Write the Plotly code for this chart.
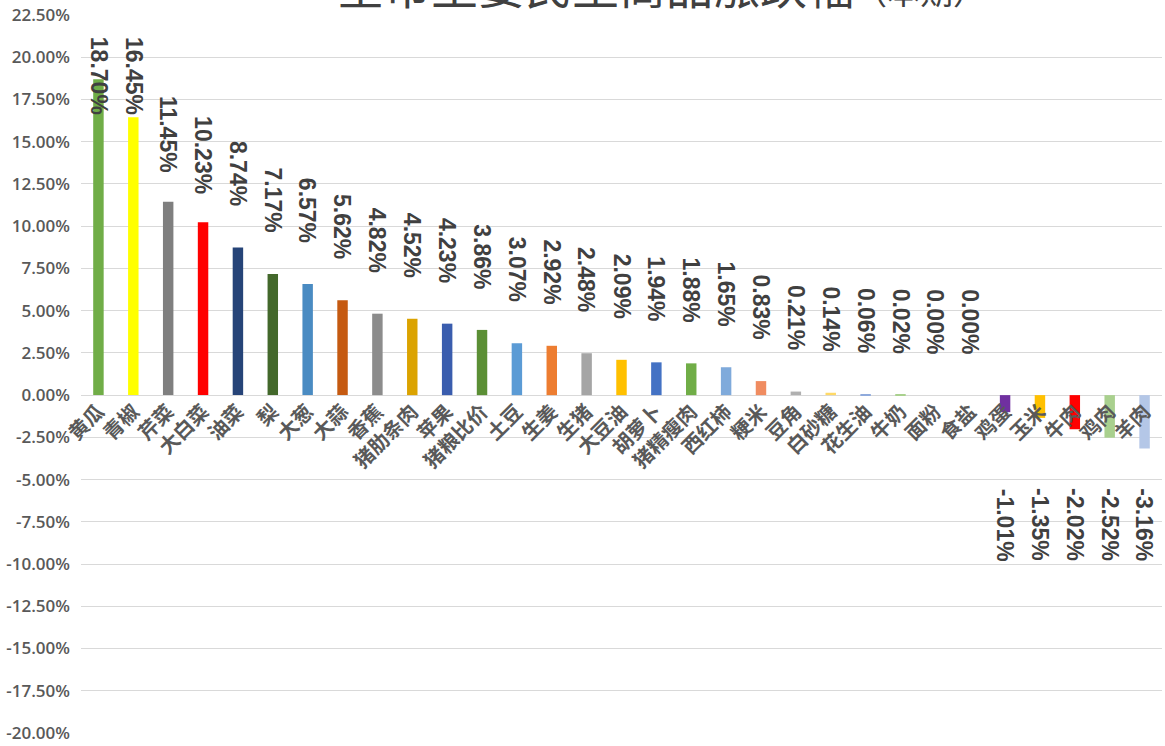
import plotly.graph_objects as go

categories = ["黄瓜", "青椒", "芹菜", "大白菜", "油菜", "梨", "大葱", "大蒜", "香蕉", "猪肋条肉",
              "苹果", "猪粮比价", "土豆", "生姜", "生猪", "大豆油", "胡萝卜", "猪精瘦肉", "西红柿", "粳米",
              "豆角", "白砂糖", "花生油", "牛奶", "面粉", "食盐", "鸡蛋", "玉米", "牛肉", "鸡肉", "羊肉"]
values = [18.70, 16.45, 11.45, 10.23, 8.74, 7.17, 6.57, 5.62, 4.82, 4.52,
          4.23, 3.86, 3.07, 2.92, 2.48, 2.09, 1.94, 1.88, 1.65, 0.83,
          0.21, 0.14, 0.06, 0.02, 0.00, 0.00, -1.01, -1.35, -2.02, -2.52, -3.16]
colors = ["#70AD47", "#FFFF00", "#7F7F7F", "#FF0000", "#264478", "#43682B", "#4A8BC2", "#C55A11",
          "#8C8C8C", "#DBA300", "#3A5DAE", "#5B8F35", "#5B9BD5", "#ED7D31", "#A5A5A5", "#FFC000",
          "#4472C4", "#70AD47", "#7FAADB", "#F08C60", "#B0B0B0", "#FFD966", "#8FAADC", "#A9D18E",
          "#FFFFFF", "#FFFFFF", "#7030A0", "#FFC000", "#FF0000", "#A9D08E", "#B4C7E7"]
y_tick_vals = [22.5, 20, 17.5, 15, 12.5, 10, 7.5, 5, 2.5, 0, -2.5, -5, -7.5, -10, -12.5, -15, -17.5, -20]
y_tick_text = ["22.50%", "20.00%", "17.50%", "15.00%", "12.50%", "10.00%", "7.50%", "5.00%", "2.50%",
               "0.00%", "-2.50%", "-5.00%", "-7.50%", "-10.00%", "-12.50%", "-15.00%", "-17.50%", "-20.00%"]
title_main = "全市主要民生商品涨跌幅"
title_sub = "（本期）"

Y_MIN, Y_MAX = -20, 22.5

fig = go.Figure(go.Bar(
    x=categories, y=values, marker=dict(color=colors, line=dict(width=0)),
    hoverinfo="x+y",
))

annotations = []
for c, v in zip(categories, values):
    label = f"{v:.2f}%"
    if v >= 0:
        top = min(v + 6.4, 21.3)
    else:
        top = -5.4
    annotations.append(dict(
        x=c, y=top, xref="x", yref="y", text=label, textangle=90, showarrow=False,
        yanchor="top", xanchor="center",
        font=dict(family="Liberation Sans, Arial", size=23, color="#404040", weight="bold"),
    ))

annotations.append(dict(
    x=0.537, y=0.993, xref="paper", yref="paper", showarrow=False, yanchor="bottom", xanchor="center",
    text=f"{title_main}<span style='font-size:33px'>{title_sub}</span>",
    font=dict(family="Noto Sans CJK SC", size=47, color="#404040"),
))

fig.update_layout(
    width=1165, height=746,
    margin=dict(l=81, r=3, t=15, b=13, autoexpand=False),
    paper_bgcolor="white", plot_bgcolor="white",
    showlegend=False, bargap=0.7,
    annotations=annotations,
    xaxis=dict(
        anchor="free", position=(0 - Y_MIN) / (Y_MAX - Y_MIN), automargin=False,
        tickangle=-45, showgrid=False, showline=False, ticks="", zeroline=False,
        tickfont=dict(family="Noto Sans CJK SC", size=20, color="#595959", weight="bold"),
    ),
    yaxis=dict(
        range=[Y_MIN, Y_MAX], tickvals=y_tick_vals, ticktext=y_tick_text, automargin=False,
        showgrid=True, gridcolor="#D9D9D9", gridwidth=1, zeroline=True, zerolinecolor="#D9D9D9",
        zerolinewidth=1, showline=False, ticks="", ticklabelstandoff=10,
        tickfont=dict(family="Open Sans", size=17, color="#595959", weight=600),
    ),
)

fig.write_html(
    "out.html",
    config={"displayModeBar": False},
    post_script="document.body.style.margin='0';document.body.style.overflow='hidden';",
)
